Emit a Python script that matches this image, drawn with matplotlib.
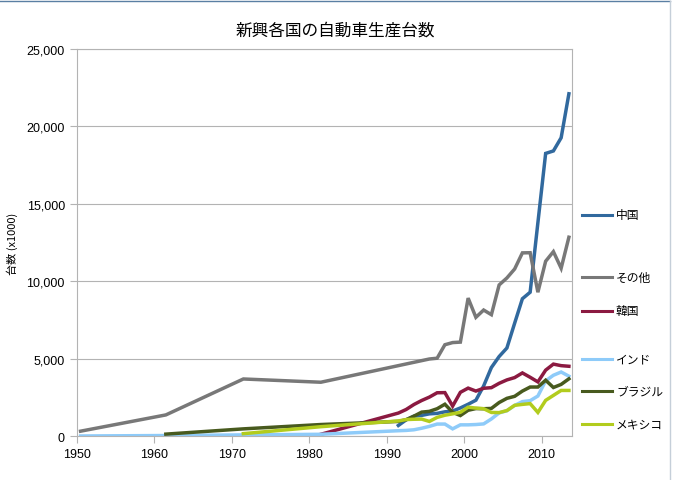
import matplotlib
matplotlib.use("Agg")
import matplotlib.pyplot as plt
from matplotlib.lines import Line2D
from matplotlib.ticker import FuncFormatter, MultipleLocator

# production, thousands of vehicles
china_years = list(range(1991, 2014))
china = [700, 1060, 1300, 1350, 1450, 1480, 1580, 1630, 1830, 2070, 2330, 3250,
         4440, 5150, 5700, 7300, 8880, 9300, 13790, 18260, 18420, 19270, 22110]

other_years = [1950, 1961, 1971, 1981] + list(range(1995, 2014))
other = [330, 1380, 3700, 3490, 4990, 5040, 5910, 6050, 6080, 8920, 7680, 8150,
         7850, 9770, 10220, 10800, 11840, 11850, 9300, 11300, 11920, 10850, 12850]

korea_years = [1981] + list(range(1991, 2014))
korea = [130, 1500, 1730, 2050, 2310, 2530, 2810, 2820, 1950, 2840, 3110, 2920,
         3100, 3140, 3420, 3640, 3790, 4090, 3810, 3510, 4270, 4660, 4560, 4520]

india_years = [1950, 1961, 1971, 1981] + list(range(1991, 2014))
india = [20, 50, 90, 130, 360, 380, 420, 520, 640, 790, 790, 480, 740, 740, 760,
         800, 1120, 1510, 1650, 1990, 2240, 2300, 2600, 3580, 3940, 4150, 3880]

brazil_years = [1961, 1971, 1981] + list(range(1991, 2014))
brazil = [140, 480, 760, 960, 1070, 1300, 1560, 1610, 1780, 2070, 1550, 1340, 1680,
          1790, 1780, 1800, 2180, 2450, 2580, 2920, 3180, 3180, 3620, 3150, 3350, 3710]

mexico_years = [1971, 1981] + list(range(1991, 2014))
mexico = [170, 620, 990, 1080, 1100, 1110, 960, 1220, 1360, 1450, 1550, 1880, 1820,
          1780, 1540, 1530, 1660, 2000, 2060, 2110, 1540, 2320, 2640, 2960, 2960]

series = [
    ("中国", china_years, china, "#31699e"),
    ("その他", other_years, other, "#787878"),
    ("韓国", korea_years, korea, "#8b1a41"),
    ("インド", india_years, india, "#8ecbf9"),
    ("ブラジル", brazil_years, brazil, "#485a1e"),
    ("メキシコ", mexico_years, mexico, "#b2cc1e"),
]

jp = ["Noto Sans CJK JP", "DejaVu Sans"]
plt.rcParams["font.family"] = ["Liberation Sans", "DejaVu Sans"]

W, H = 673, 481
fig = plt.figure(figsize=(W / 100, H / 100), dpi=100)
ax = fig.add_axes([76.7 / W, 1 - 437.3 / H, (572 - 76.7) / W, (437.3 - 50) / H])

# points sit at mid-year in the original chart
for name, yrs, vals, col in series:
    ax.plot([y + 0.5 for y in yrs], vals, color=col, lw=2.5, solid_joinstyle="miter")

ax.set_xlim(1950, 2013.9)
ax.set_ylim(0, 25000)
ax.xaxis.set_major_locator(MultipleLocator(10))
ax.yaxis.set_major_locator(MultipleLocator(5000))
ax.yaxis.set_major_formatter(FuncFormatter(lambda v, p: f"{int(v):,}"))
ax.grid(axis="y", color="#b3b3b3", lw=0.8)
ax.set_axisbelow(True)
for s in ax.spines.values():
    s.set_color("#b3b3b3")
    s.set_linewidth(0.8)
ax.tick_params(colors="#b3b3b3", length=5, width=0.8, labelcolor="black", labelsize=9)

ax.set_ylabel("台数 (x1000)", family=jp, fontsize=8, labelpad=6)
fig.text(335 / W, 1 - 31 / H, "新興各国の自動車生産台数", family=jp, fontsize=12,
         ha="center", va="center")

# legend, placed like the original
leg_y = [215.7, 278.3, 311.7, 360, 391.7, 425]
for (name, yrs, vals, col), py in zip(series, leg_y):
    fy = 1 - py / H
    fig.add_artist(Line2D([582 / W, 612 / W], [fy, fy], color=col, lw=2.2))
    fig.text(616 / W, fy, name, family=jp, fontsize=8.5, va="center", ha="left")

# chart border
fig.add_artist(Line2D([0, 670 / W], [1 - 1.5 / H, 1 - 1.5 / H], color="#5a7fa3", lw=1))
fig.add_artist(Line2D([670 / W, 670 / W], [0, 1 - 1.5 / H], color="#c5cfd9", lw=1))

fig.savefig("out.png", dpi=100)
